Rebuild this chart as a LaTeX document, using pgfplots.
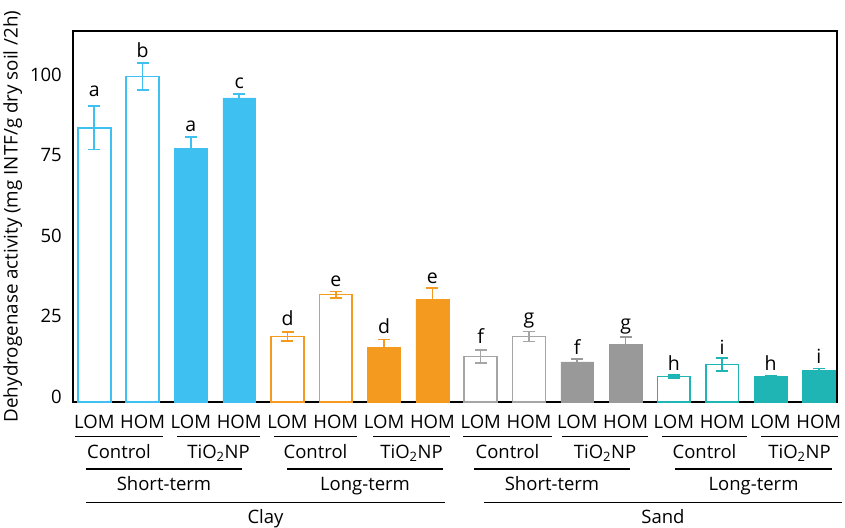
\documentclass[border=0pt]{standalone}
\usepackage{pgfplots}
\pgfplotsset{compat=1.18}
\usepackage{pgfplotstable}
\usepackage{fontspec}
\setmainfont{Open Sans}

\definecolor{cblue}{RGB}{62,192,240}
\definecolor{corange}{RGB}{244,154,30}
\definecolor{cgrayl}{RGB}{165,165,165}
\definecolor{cgray}{RGB}{153,153,153}
\definecolor{cteal}{RGB}{32,181,181}

% Dehydrogenase activity: mean (y), error (e), letter (lab), letter gap (ls)
% Clay
\pgfplotstableread{
x y e lab ls
0 85.0 6.7 a 10
1 100.9 4.2 b 5
}\clayShortCtrl
\pgfplotstableread{
x y e lab ls
2 78.6 3.6 a 5
3 94.3 1.2 c 5
}\clayShortTiO
\pgfplotstableread{
x y e lab ls
4 20.3 1.4 d 6
5 33.3 1.0 e 5
}\clayLongCtrl
\pgfplotstableread{
x y e lab ls
6 17.0 2.4 d 6
7 31.9 3.4 e 5
}\clayLongTiO
% Sand
\pgfplotstableread{
x y e lab ls
8 14.1 2.1 f 6
9 20.3 1.6 g 8
}\sandShortCtrl
\pgfplotstableread{
x y e lab ls
10 12.4 0.9 f 5
11 17.9 2.2 g 8
}\sandShortTiO
\pgfplotstableread{
x y e lab ls
12 7.9 0.4 h 5
13 11.6 2.0 i 4
}\sandLongCtrl
\pgfplotstableread{
x y e lab ls
14 7.9 0.2 h 5
15 9.9 0.5 i 5
}\sandLongTiO

\newcommand{\fs}[1]{\fontsize{#1}{#1}\selectfont}

\pgfplotsset{
  openbar/.style={draw=#1, fill=white, line width=1.7pt,
    error bars/.cd, y dir=both, y explicit,
    error bar style={draw=#1, line width=1.6pt},
    error mark options={draw=#1, rotate=90, mark size=6pt, line width=1.6pt}},
  fullbar/.style={draw=#1, fill=#1, line width=0.5pt,
    error bars/.cd, y dir=both, y explicit,
    error bar style={draw=#1, line width=1.6pt},
    error mark options={draw=#1, rotate=90, mark size=6pt, line width=1.6pt}},
  letters/.style={draw=none, fill=none, nodes near coords,
    point meta=explicit symbolic,
    visualization depends on={\thisrow{ls} \as \gap},
    every node near coord/.append style={font=\fs{19.5}, anchor=base, yshift=\gap pt, black}},
}

\begin{document}
\begin{tikzpicture}
\useasboundingbox (-73pt,-125pt) rectangle (772pt,402pt);
\begin{axis}[
  at={(0,0)}, anchor=south west,
  scale only axis, width=764pt, height=371pt,
  xmin=-0.441, xmax=15.377, ymin=0, ymax=115,
  ybar, bar width=0.68, bar shift=0pt,
  axis line style={line width=1.4pt},
  major tick length=0pt,
  ytick={0,25,50,75,100},
  xtick={0,...,15},
  xticklabels={LOM,HOM,LOM,HOM,LOM,HOM,LOM,HOM,LOM,HOM,LOM,HOM,LOM,HOM,LOM,HOM},
  xticklabel style={font=\fs{18.5}, anchor=base, inner sep=0pt, yshift=-26.5pt},
  yticklabel style={font=\fs{18.5}, anchor=east, inner sep=0pt, xshift=-11pt, yshift=5pt},
  /pgf/number format/assume math mode=true,
  ylabel={Dehydrogenase activity (mg INTF/g dry soil /2h)},
  every axis y label/.style={at={(axis description cs:-0.079,0.5)}, rotate=90, anchor=center, font=\fs{18.8}},
  clip=false,
]
\addplot[openbar=cblue] table[x=x, y=y, y error=e] {\clayShortCtrl};
\addplot[fullbar=cblue] table[x=x, y=y, y error=e] {\clayShortTiO};
\addplot[openbar=corange] table[x=x, y=y, y error=e] {\clayLongCtrl};
\addplot[fullbar=corange] table[x=x, y=y, y error=e] {\clayLongTiO};
\addplot[openbar=cgrayl] table[x=x, y=y, y error=e] {\sandShortCtrl};
\addplot[fullbar=cgray] table[x=x, y=y, y error=e] {\sandShortTiO};
\addplot[openbar=cteal] table[x=x, y=y, y error=e] {\sandLongCtrl};
\addplot[fullbar=cteal] table[x=x, y=y, y error=e] {\sandLongTiO};
% significance letters above the error bars
\addplot[letters] table[x=x, y expr=\thisrow{y}+\thisrow{e}, meta=lab] {\clayShortCtrl};
\addplot[letters] table[x=x, y expr=\thisrow{y}+\thisrow{e}, meta=lab] {\clayShortTiO};
\addplot[letters] table[x=x, y expr=\thisrow{y}+\thisrow{e}, meta=lab] {\clayLongCtrl};
\addplot[letters] table[x=x, y expr=\thisrow{y}+\thisrow{e}, meta=lab] {\clayLongTiO};
\addplot[letters] table[x=x, y expr=\thisrow{y}+\thisrow{e}, meta=lab] {\sandShortCtrl};
\addplot[letters] table[x=x, y expr=\thisrow{y}+\thisrow{e}, meta=lab] {\sandShortTiO};
\addplot[letters] table[x=x, y expr=\thisrow{y}+\thisrow{e}, meta=lab] {\sandLongCtrl};
\addplot[letters] table[x=x, y expr=\thisrow{y}+\thisrow{e}, meta=lab] {\sandLongTiO};
\end{axis}
% grouping brackets below the categories
\begin{scope}[line width=1.4pt]
  \foreach \a/\b/\t in {2/90/Control, 104/187/TiO\textsubscript{2}NP, 201/284/Control, 300/377/TiO\textsubscript{2}NP,
                        390/479/Control, 489/575/TiO\textsubscript{2}NP, 589/674/Control, 688/765/TiO\textsubscript{2}NP}{
    \draw (\a pt,-34.7pt) -- (\b pt,-34.7pt);
    \node[font=\fs{18.5}, anchor=base, inner sep=0pt] at ({(\a+\b)/2*1pt},-56.4pt) {\t};
  }
  \foreach \a/\b/\t in {13/169/Short-term, 214/370/Long-term, 401/557/Short-term, 602/759/Long-term}{
    \draw (\a pt,-67pt) -- (\b pt,-67pt);
    \node[font=\fs{18.5}, anchor=base, inner sep=0pt] at ({(\a+\b)/2*1pt},-88pt) {\t};
  }
  \foreach \a/\b/\t in {13/372/Clay, 411/769/Sand}{
    \draw (\a pt,-100.3pt) -- (\b pt,-100.3pt);
    \node[font=\fs{18.5}, anchor=base, inner sep=0pt] at ({(\a+\b)/2*1pt},-121.3pt) {\t};
  }
\end{scope}
\end{tikzpicture}
\end{document}
